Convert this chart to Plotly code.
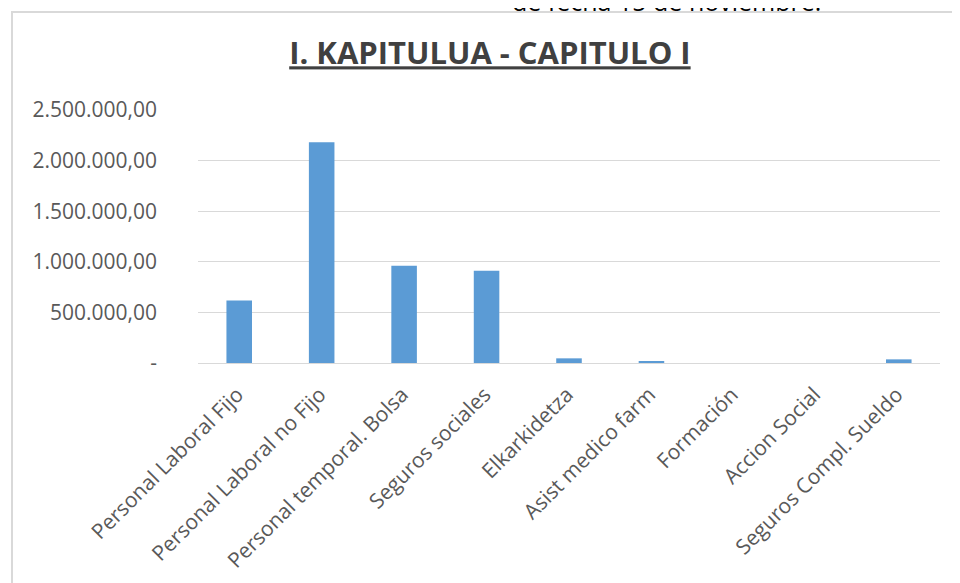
import plotly.graph_objects as go

categories = [
    "Personal Laboral Fijo",
    "Personal Laboral no Fijo",
    "Personal temporal. Bolsa",
    "Seguros sociales",
    "Elkarkidetza",
    "Asist medico farm",
    "Formación",
    "Accion Social",
    "Seguros Compl. Sueldo",
]
values = [617000, 2181000, 960000, 911000, 46000, 20000, 0, 0, 36000]

tick_vals = [0, 500000, 1000000, 1500000, 2000000, 2500000]
tick_text = ["-", "500.000,00", "1.000.000,00", "1.500.000,00", "2.000.000,00", "2.500.000,00"]

FONT = "Open Sans"
GRID = "#d9d9d9"

fig = go.Figure(
    go.Bar(x=categories, y=values, marker=dict(color="#5b9bd5", line=dict(width=0)), width=0.31)
)

fig.update_layout(
    width=960,
    height=583,
    margin=dict(l=190, r=28, t=102, b=228),
    paper_bgcolor="white",
    plot_bgcolor="white",
    showlegend=False,
    font=dict(family=FONT, color="#595959", size=20),
    title=dict(
        text="<b><u>I. KAPITULUA - CAPITULO I</u></b>",
        x=0.502,
        xanchor="center",
        y=0.922,
        yanchor="middle",
        font=dict(family=FONT, size=31, color="#404040"),
    ),
)
fig.update_xaxes(
    tickangle=-45,
    showgrid=False,
    showline=True,
    linecolor=GRID,
    linewidth=1,
    ticks="",
    ticklabelstandoff=10,
    ticklabelshift=-2,
    tickfont=dict(size=21, color="#595959"),
)
fig.update_yaxes(
    range=[0, 2500000],
    tickvals=tick_vals,
    ticktext=tick_text,
    showgrid=True,
    gridcolor=GRID,
    gridwidth=1,
    zeroline=False,
    showline=False,
    ticks="",
    ticklabelstandoff=40,
    tickfont=dict(size=21, color="#595959"),
)

# chart frame (runs past the right and bottom edges, as in the cropped screenshot)
fig.add_shape(
    type="rect", xref="paper", yref="paper",
    x0=-0.2507, x1=1.12, y0=-0.95, y1=1.387,
    line=dict(color=GRID, width=2), fillcolor="rgba(0,0,0,0)", layer="below",
)
fig.add_annotation(
    text="de fecha 15 de noviembre.",
    xref="paper", yref="paper", x=0.631, y=1.43, xanchor="center", yanchor="middle",
    showarrow=False, font=dict(family=FONT, size=25, color="#000000"),
)

fig.write_html("out.html")
